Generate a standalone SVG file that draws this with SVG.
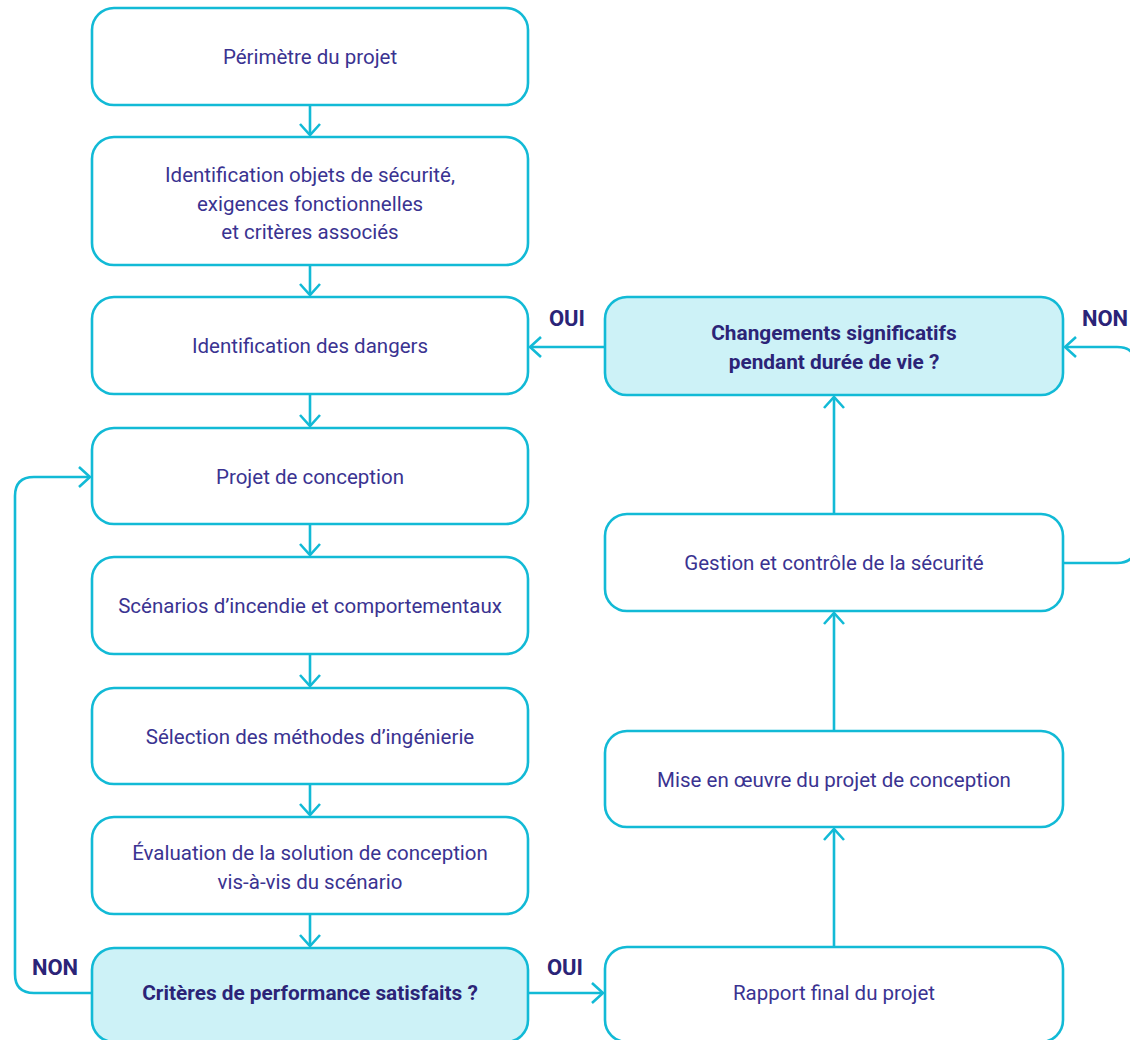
<svg xmlns="http://www.w3.org/2000/svg" width="1130" height="1040" viewBox="0 0 1130 1040">
  <style>
    .box { fill: #ffffff; stroke: #12bad6; stroke-width: 2.6; }
    .decision { fill: #cdf2f7; stroke: #12bad6; stroke-width: 2.6; }
    .txt { font-family: Roboto, "Noto Sans", sans-serif; font-size: 20.5px; fill: #3a3391; text-anchor: middle; }
    .btxt { font-family: Roboto, "Noto Sans", sans-serif; font-size: 20.8px; font-weight: bold; fill: #2b2477; text-anchor: middle; }
    .lbl { font-family: Roboto, "Noto Sans", sans-serif; font-size: 22px; font-weight: bold; fill: #2b2477; text-anchor: middle; }
    .link { fill: none; stroke: #12bad6; stroke-width: 2.6; marker-end: url(#chev); }
  </style>
  <defs>
    <marker id="chev" viewBox="-14 -13 16 26" refX="0" refY="0" markerWidth="16" markerHeight="26" markerUnits="userSpaceOnUse" orient="auto" overflow="visible">
      <path d="M-11,-10 L0,0 L-11,10" fill="none" stroke="#12bad6" stroke-width="2.6" stroke-linejoin="miter"/>
    </marker>
  </defs>
  <rect width="1130" height="1040" fill="#ffffff"/>

  <!-- connectors -->
  <g id="connectors">
    <path class="link" d="M310,105 V135"/>
    <path class="link" d="M310,265 V295"/>
    <path class="link" d="M310,394 V426"/>
    <path class="link" d="M310,524 V555"/>
    <path class="link" d="M310,654 V686"/>
    <path class="link" d="M310,784 V815"/>
    <path class="link" d="M310,914 V946"/>
    <!-- NON: back to design -->
    <path class="link" d="M92,993 H34 Q15,993 15,974 V496 Q15,477 34,477 H90"/>
    <!-- OUI: to final report -->
    <path class="link" d="M528,993 H603"/>
    <!-- right column, upward -->
    <path class="link" d="M834,947 V829"/>
    <path class="link" d="M834,731 V613"/>
    <path class="link" d="M834,514 V397"/>
    <!-- OUI: back to hazards -->
    <path class="link" d="M605,347 H530"/>
    <!-- NON: loop from safety management -->
    <path class="link" d="M1063,563 H1117 Q1136,563 1136,544 V366 Q1136,347 1117,347 H1065"/>
  </g>

  <!-- left column -->
  <g id="n1">
    <rect class="box" x="92" y="8" width="436" height="97" rx="22"/>
    <text class="txt" x="310" y="64">Périmètre du projet</text>
  </g>
  <g id="n2">
    <rect class="box" x="92" y="137" width="436" height="128" rx="22"/>
    <text class="txt" x="310" y="182">Identification objets de sécurité,</text>
    <text class="txt" x="310" y="211">exigences fonctionnelles</text>
    <text class="txt" x="310" y="239">et critères associés</text>
  </g>
  <g id="n3">
    <rect class="box" x="92" y="297" width="436" height="97" rx="22"/>
    <text class="txt" x="310" y="353">Identification des dangers</text>
  </g>
  <g id="n4">
    <rect class="box" x="92" y="428" width="436" height="96" rx="22"/>
    <text class="txt" x="310" y="484">Projet de conception</text>
  </g>
  <g id="n5">
    <rect class="box" x="92" y="557" width="436" height="97" rx="22"/>
    <text class="txt" x="310" y="613">Scénarios d’incendie et comportementaux</text>
  </g>
  <g id="n6">
    <rect class="box" x="92" y="688" width="436" height="96" rx="22"/>
    <text class="txt" x="310" y="744">Sélection des méthodes d’ingénierie</text>
  </g>
  <g id="n7">
    <rect class="box" x="92" y="817" width="436" height="97" rx="22"/>
    <text class="txt" x="310" y="860">Évaluation de la solution de conception</text>
    <text class="txt" x="310" y="889">vis-à-vis du scénario</text>
  </g>
  <g id="n8">
    <rect class="decision" x="92" y="948" width="436" height="94" rx="22"/>
    <text class="btxt" x="310" y="1000">Critères de performance satisfaits ?</text>
  </g>

  <!-- right column -->
  <g id="n9">
    <rect class="box" x="605" y="947" width="458" height="95" rx="22"/>
    <text class="txt" x="834" y="1000">Rapport final du projet</text>
  </g>
  <g id="n10">
    <rect class="box" x="605" y="731" width="458" height="96" rx="22"/>
    <text class="txt" x="834" y="787">Mise en œuvre du projet de conception</text>
  </g>
  <g id="n11">
    <rect class="box" x="605" y="514" width="458" height="97" rx="22"/>
    <text class="txt" x="834" y="570">Gestion et contrôle de la sécurité</text>
  </g>
  <g id="n12">
    <rect class="decision" x="605" y="297" width="458" height="98" rx="22"/>
    <text class="btxt" x="834" y="340">Changements significatifs</text>
    <text class="btxt" x="834" y="369">pendant durée de vie ?</text>
  </g>

  <!-- branch labels -->
  <g id="labels">
    <text class="lbl" x="567" y="326">OUI</text>
    <text class="lbl" x="1105" y="326">NON</text>
    <text class="lbl" x="55" y="975">NON</text>
    <text class="lbl" x="565" y="975">OUI</text>
  </g>
</svg>
